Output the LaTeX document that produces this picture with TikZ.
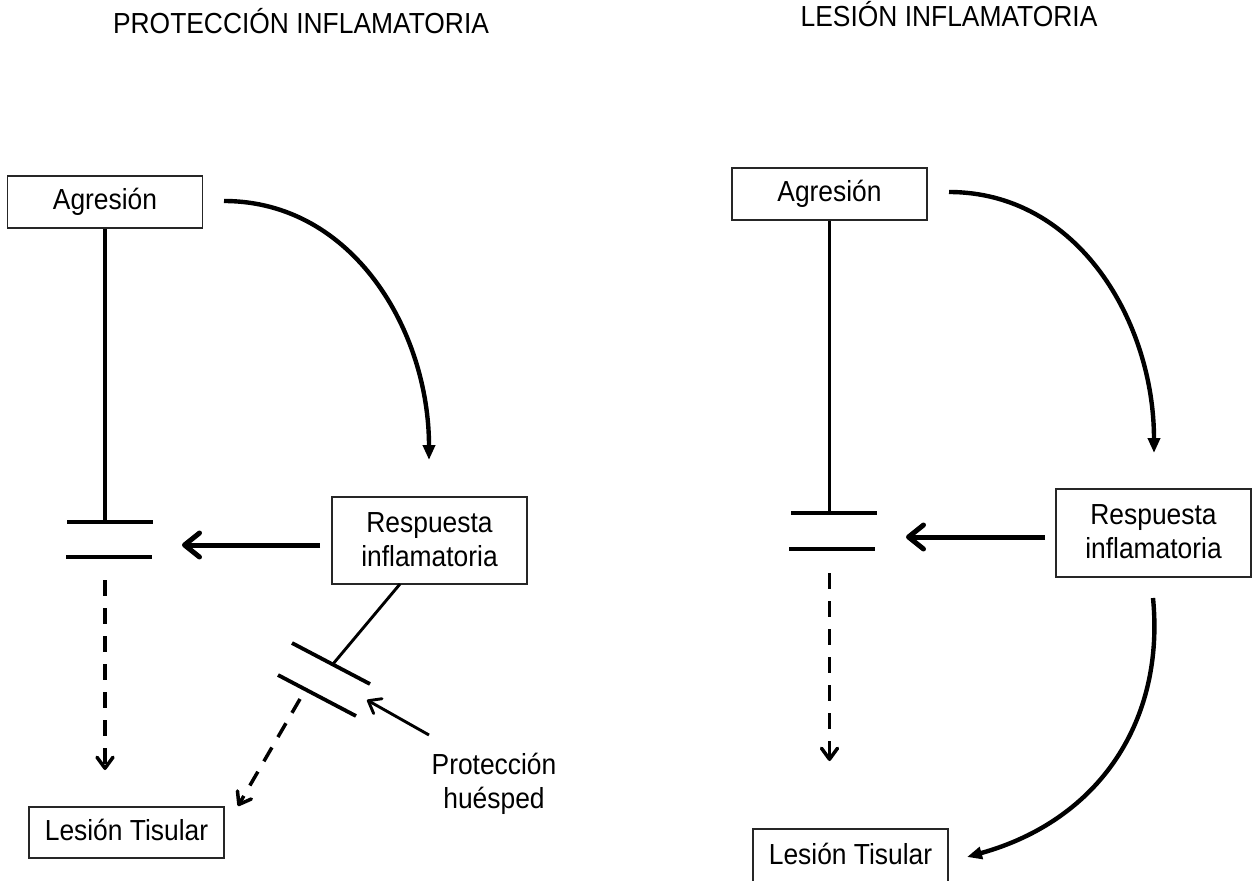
\documentclass[tikz,border=0pt]{standalone}
\usepackage{fontspec}
\setmainfont[FakeStretch=0.91]{Liberation Sans}
\usetikzlibrary{arrows.meta}
\newcommand\diagfont{\fontsize{29bp}{34bp}\selectfont}
\begin{document}
\begin{tikzpicture}[x=1bp,y=-1bp,
  box/.style={draw=black!85, line width=1.4bp, minimum width=195bp, inner sep=0pt,
              font=\diagfont, align=center},
  onebox/.style={box, text height=21bp, text depth=6bp},
  txt/.style={font=\diagfont, align=center, inner sep=0pt},
  stem/.style={line width=3.4bp},
  barline/.style={line width=3.8bp},
  push/.style={line width=5bp, -{Straight Barb[length=15bp,width=24bp,round]}},
  curvearrow/.style={line width=4.4bp, -{Triangle[length=15bp,width=12bp]}},
  lead/.style={line width=3.5bp, dash pattern=on 16bp off 12bp,
               -{Straight Barb[length=11bp,width=16bp,round]}},
  link/.style={line width=2.9bp},
  linkarrow/.style={line width=2.9bp, -{Straight Barb[length=11bp,width=17bp,round]}}]
\useasboundingbox (0,0) rectangle (1253,881);

% ---------- left panel: protective inflammation ----------
\node[txt, anchor=base] (titleL) at (301,33) {PROTECCIÓN INFLAMATORIA};
\node[onebox, minimum height=52bp] (agrL) at (105,202) {Agresión};
\node[box, minimum height=87bp] (respL) at (429.5,540.5) {\raisebox{2.5bp}{Respuesta}\\\raisebox{2.5bp}{inflamatoria}};
\node[onebox, minimum height=51bp] (lesL) at (126.5,832.5) {Lesión Tisular};
\node[txt] (protL) at (494,783.5) {Protección\\huésped};

\coordinate (barL1a) at (67,522);  \coordinate (barL1b) at (153,522);
\coordinate (barL2a) at (66,557);  \coordinate (barL2b) at (152,557);
\coordinate (dashL0) at (105,580); \coordinate (dashL1) at (105,770);
\coordinate (pushL0) at (320,545); \coordinate (pushL1) at (182,545);
\coordinate (curveL0) at (224,201); \coordinate (curveL1) at (429,460);
\coordinate (diagL0) at (400,584); \coordinate (diagL1) at (333,664);
\coordinate (dbarL1a) at (292,643); \coordinate (dbarL1b) at (370,684);
\coordinate (dbarL2a) at (278,675); \coordinate (dbarL2b) at (356,716);
\coordinate (ddashL0) at (300,699); \coordinate (ddashL1) at (238,806);
\coordinate (protTip) at (367,700); \coordinate (protTail) at (429,735);

\draw[stem] (agrL.south) -- (agrL.south |- barL1a);
\draw[barline] (barL1a) -- (barL1b);
\draw[barline] (barL2a) -- (barL2b);
\draw[lead] (dashL0) -- (dashL1);
\draw[push] (pushL0) -- (pushL1);
\draw[curvearrow] (curveL0) .. controls (353,201) and (429,331) .. (curveL1);
\draw[link] (diagL0) -- (diagL1);
\draw[barline] (dbarL1a) -- (dbarL1b);
\draw[barline] (dbarL2a) -- (dbarL2b);
\draw[lead] (ddashL0) -- (ddashL1);
\draw[linkarrow] (protTail) -- (protTip);

% ---------- right panel: inflammatory injury ----------
\node[txt, anchor=base] (titleR) at (949,26) {LESIÓN INFLAMATORIA};
\node[onebox, minimum height=52bp] (agrR) at (829.5,194) {Agresión};
\node[box, minimum height=88bp] (respR) at (1153.5,533) {\raisebox{2.5bp}{Respuesta}\\\raisebox{2.5bp}{inflamatoria}};
\node[onebox, minimum height=56bp] (lesR) at (850.5,857) {Lesión Tisular};

\coordinate (barR1a) at (791,513); \coordinate (barR1b) at (877,513);
\coordinate (barR2a) at (789,549); \coordinate (barR2b) at (875,549);
\coordinate (dashR0) at (829.5,573); \coordinate (dashR1) at (829.5,761);
\coordinate (pushR0) at (1045,537); \coordinate (pushR1) at (906,537);
\coordinate (curveR0) at (949,192); \coordinate (curveR1) at (1154,453);
\coordinate (curveR2) at (1153,598); \coordinate (curveR3) at (967,857);

\draw[stem] (agrR.south) -- (agrR.south |- barR1a);
\draw[barline] (barR1a) -- (barR1b);
\draw[barline] (barR2a) -- (barR2b);
\draw[lead] (dashR0) -- (dashR1);
\draw[push] (pushR0) -- (pushR1);
\draw[curvearrow] (curveR0) .. controls (1079,192) and (1154,323) .. (curveR1);
\draw[curvearrow] (curveR2) .. controls (1165,720) and (1100,820) .. (curveR3);
\end{tikzpicture}
\end{document}
